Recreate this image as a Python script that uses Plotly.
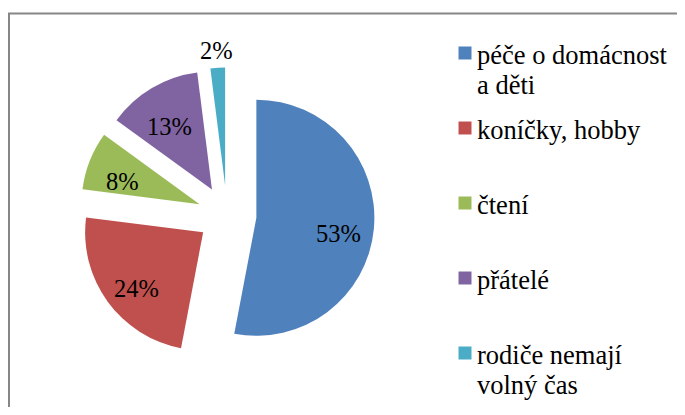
import math
import plotly.graph_objects as go

labels = ["péče o domácnost a děti", "koníčky, hobby", "čtení", "přátelé", "rodiče nemají volný čas"]
legend_lines = [["péče o domácnost", "a děti"], ["koníčky, hobby"], ["čtení"], ["přátelé"], ["rodiče nemají", "volný čas"]]
values = [53, 24, 8, 13, 2]
colors = ["#4F81BD", "#C0504D", "#9BBB59", "#8064A2", "#4BACC6"]
label_inside = [True, True, True, True, False]

OFF = 8  # page body margin of the html page
W, H = 685 - 2 * OFF, 415 - 2 * OFF
FONT = "Liberation Serif, Times New Roman, serif"

# pie geometry (page pixels -> paper)
cx, cy, r, pull = 227 - OFF, 215 - OFF, 118, 0.25
half = r * (1 + pull)

fig = go.Figure(go.Pie(
    labels=labels,
    values=values,
    marker=dict(colors=colors),
    sort=False,
    direction="clockwise",
    rotation=0,
    pull=[pull] * len(values),
    textinfo="none",
    domain=dict(x=[(cx - half) / W, (cx + half) / W],
                y=[(H - cy - half) / H, (H - cy + half) / H]),
    showlegend=False,
    hoverinfo="label+percent",
))

annotations = []
# percentage labels, placed along each slice's mid-angle
total = sum(values)
cum = 0
for v, inside in zip(values, label_inside):
    mid = 2 * math.pi * (cum + v / 2) / total
    cum += v
    rho = 0.95 * r if inside else 1.4 * r
    lx = cx + rho * math.sin(mid)
    ly = cy - rho * math.cos(mid) + (8 if inside else 0)
    annotations.append(dict(xref="paper", yref="paper", x=lx / W, y=1 - ly / H,
                            xanchor="center", yanchor="middle",
                            text=f"{round(100 * v / total)}%", showarrow=False,
                            font=dict(family=FONT, size=24.5, color="black")))

shapes = [dict(type="rect", xref="paper", yref="paper",
               x0=(9 - OFF) / W, x1=1.05, y0=-0.05, y1=1 - (13.5 - OFF) / H,
               line=dict(color="#868686", width=2), fillcolor="rgba(0,0,0,0)")]
y0, step, sq = 53 - OFF, 75, 13
line_h = 30
for i, (lines, col) in enumerate(zip(legend_lines, colors)):
    yc = y0 + i * step
    shapes.append(dict(type="rect", xref="paper", yref="paper",
                       x0=(458.5 - OFF) / W, x1=(458.5 - OFF + sq) / W,
                       y0=1 - (yc + sq / 2) / H, y1=1 - (yc - sq / 2) / H,
                       fillcolor=col, line=dict(width=0)))
    for j, t in enumerate(lines):
        annotations.append(dict(xref="paper", yref="paper",
                                x=(475 - OFF) / W, y=1 - (yc + 2 + j * line_h) / H,
                                xanchor="left", yanchor="middle", text=t,
                                showarrow=False,
                                font=dict(family=FONT, size=26.5, color="black")))

fig.update_layout(
    width=W, height=H,
    margin=dict(l=0, r=0, t=0, b=0, autoexpand=False),
    paper_bgcolor="white",
    plot_bgcolor="white",
    shapes=shapes,
    annotations=annotations,
)

fig.write_html("out.html")
